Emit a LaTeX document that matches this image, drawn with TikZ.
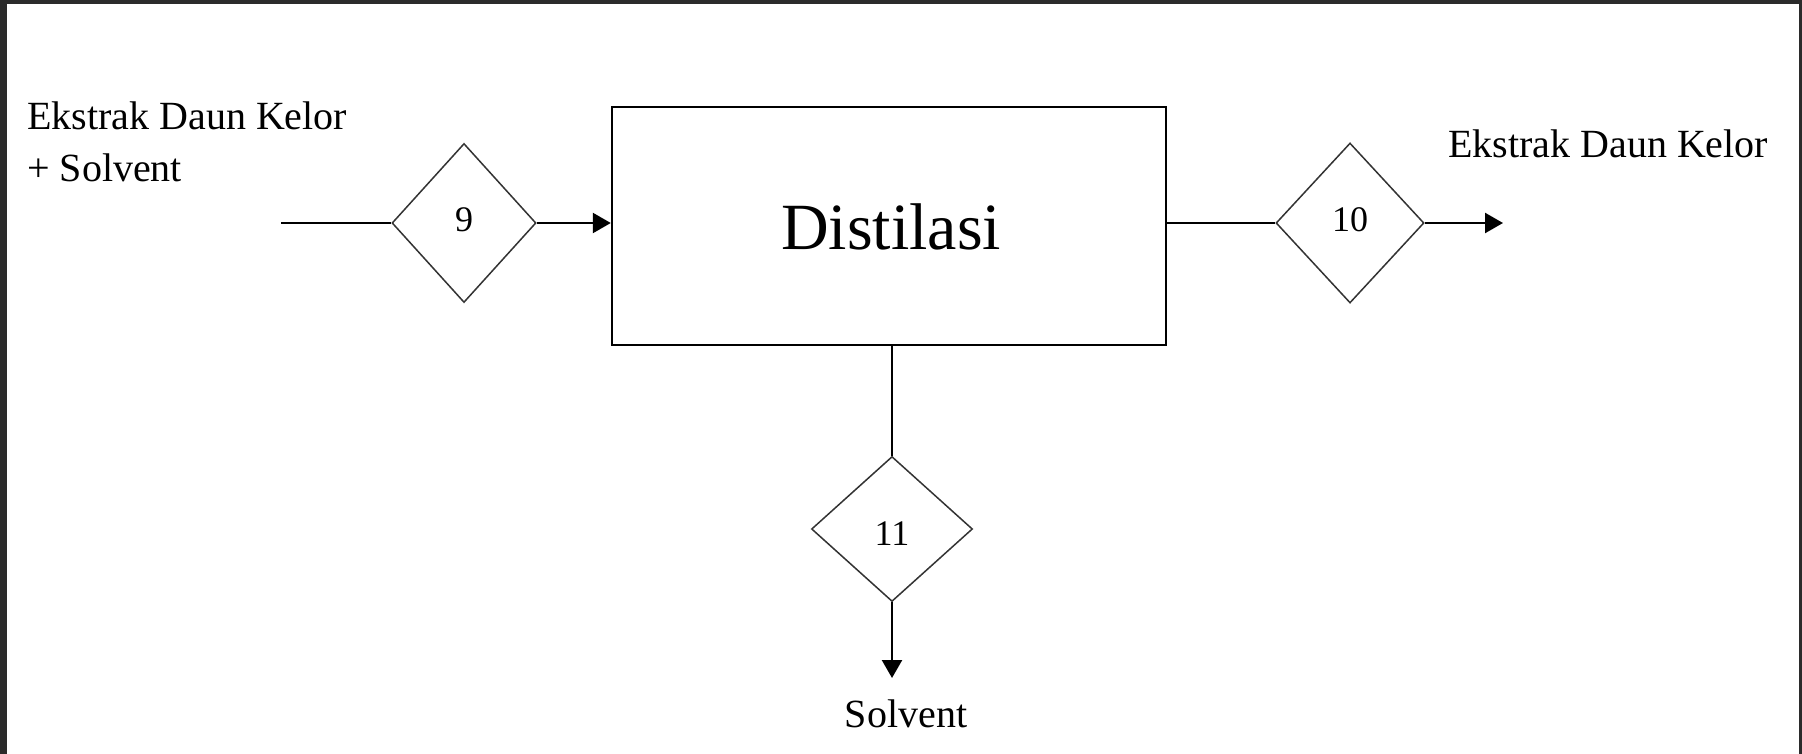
\documentclass[tikz,border=0pt]{standalone}
\usepackage{fontspec}
\setmainfont{Liberation Serif}
\usetikzlibrary{shapes.geometric,arrows.meta}
\definecolor{frame}{HTML}{2B2B2B}
\tikzset{
  flow/.style={line width=2.4pt, draw=black},
  arr/.style={flow, -{Triangle[length=18pt,width=20pt]}},
  valve/.style={diamond, draw=black!80, line width=1.5pt, inner sep=0pt, fill=white,
    font=\fontsize{36}{40}\selectfont},
  unit/.style={draw=black, line width=2.4pt, fill=white},
  lbl/.style={inner sep=0pt, font=\fontsize{40}{48}\selectfont}
}
\begin{document}
\begin{tikzpicture}[x=1pt,y=-1pt]
\useasboundingbox (0,0) rectangle (1802,754);
\fill[frame] (0,0) rectangle (1802,754);
\fill[white] (7,4) rectangle (1799,754);

\node[unit, minimum width=554pt, minimum height=238pt] (box) at (889,226) {};
\node[anchor=base, inner sep=0pt, font=\fontsize{66}{72}\selectfont] (dist) at (891,250) {Distilasi};

\node[valve, minimum width=144pt, minimum height=159pt] (d9) at (464,223) {};
\node[anchor=base, inner sep=0pt, font=\fontsize{36}{40}\selectfont] (t9) at (464,232) {9};
\node[valve, minimum width=148pt, minimum height=160pt] (d10) at (1350,223) {};
\node[anchor=base, inner sep=0pt, font=\fontsize{36}{40}\selectfont] (t10) at (1350,232) {10};
\node[valve, minimum width=161pt, minimum height=145pt] (d11) at (892,529) {};
\node[anchor=base, inner sep=0pt, font=\fontsize{36}{40}\selectfont] (t11) at (892,545) {11};

\coordinate (in) at (281,223);
\coordinate (out) at (1503,223);
\coordinate (down) at (892,678);

\draw[flow] (in) -- (d9.west);
\draw[arr] (d9.east) -- (d9.east -| box.west);
\draw[flow] (box.east |- d10.west) -- (d10.west);
\draw[arr] (d10.east) -- (out);
\draw[flow] (d11 |- box.south) -- (d11.north);
\draw[arr] (d11.south) -- (down);

\node[lbl, anchor=base west] (l1) at (27,130) {Ekstrak Daun Kelor};
\node[lbl, anchor=base west] (l2) at (27,182) {+ Solvent};
\node[lbl, anchor=base west] (r1) at (1448,158) {Ekstrak Daun Kelor};
\node[lbl, anchor=base] (s1) at (906,727) {Solvent};
\end{tikzpicture}
\end{document}
